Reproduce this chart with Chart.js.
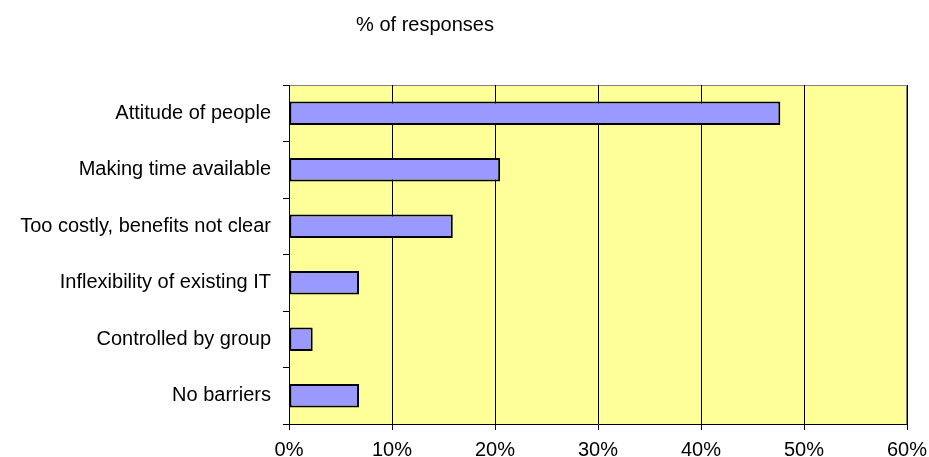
<!DOCTYPE html>
<html>
<head>
<meta charset="utf-8">
<style>
  html, body { margin: 0; padding: 0; background: #fff; }
  #wrap { width: 929px; height: 457px; }
</style>
<script src="https://cdn.jsdelivr.net/npm/chart.js@4/dist/chart.umd.min.js"></script>
</head>
<body>
<div id="wrap"><canvas id="barriers"></canvas></div>
<script>
  "use strict";

  // Barriers to change, share of responses
  const categories = [
    "Attitude of people",
    "Making time available",
    "Too costly, benefits not clear",
    "Inflexibility of existing IT",
    "Controlled by group",
    "No barriers"
  ];
  const responses = [47.7, 20.5, 15.9, 6.8, 2.3, 6.8];
  const xTicks = [0, 10, 20, 30, 40, 50, 60];
  const chartTitle = "% of responses";

  const font = { family: "'Liberation Sans', Arial, sans-serif", size: 20 };

  // Yellow plot area with grey top/right border
  const plotBackground = {
    id: "plotBackground",
    beforeDraw(chart) {
      const { ctx, chartArea: a } = chart;
      ctx.save();
      ctx.fillStyle = "#FFFF99";
      ctx.fillRect(a.left, a.top, a.right - a.left, a.bottom - a.top);
      ctx.strokeStyle = "#808080";
      ctx.lineWidth = 1;
      ctx.beginPath();
      ctx.moveTo(a.left, a.top + 0.5);
      ctx.lineTo(a.right - 0.5, a.top + 0.5);
      ctx.lineTo(a.right - 0.5, a.bottom);
      ctx.stroke();
      ctx.restore();
    }
  };

  // Title sits left of centre, above the plot
  const topTitle = {
    id: "topTitle",
    afterDraw(chart) {
      const ctx = chart.ctx;
      ctx.save();
      ctx.font = font.size + "px " + font.family;
      ctx.fillStyle = "#000";
      ctx.textAlign = "center";
      ctx.textBaseline = "middle";
      ctx.fillText(chartTitle, 425, 25);
      ctx.restore();
    }
  };

  new Chart(document.getElementById("barriers"), {
    type: "bar",
    data: {
      labels: categories,
      datasets: [{
        data: responses,
        backgroundColor: "#9999FF",
        borderColor: "#000",
        borderWidth: 2,
        borderSkipped: false,
        barPercentage: 0.42,
        categoryPercentage: 1
      }]
    },
    options: {
      indexAxis: "y",
      responsive: true,
      maintainAspectRatio: false,
      animation: false,
      layout: { padding: { top: 85, right: 22, left: 0, bottom: 0 } },
      plugins: {
        legend: { display: false },
        title: { display: false },
        tooltip: { enabled: false }
      },
      scales: {
        x: {
          min: 0,
          max: 60,
          afterBuildTicks(scale) {
            scale.ticks = xTicks.map(v => ({ value: v }));
          },
          afterFit(scale) {
            // fixed strip for the % labels, no extra side padding
            scale.height = 33;
            scale.paddingLeft = 0;
            scale.paddingRight = 0;
          },
          ticks: {
            font: font,
            color: "#000",
            padding: 8,
            maxRotation: 0,
            callback: v => v + "%"
          },
          grid: {
            color: "#000",
            lineWidth: 1,
            tickLength: 6,
            tickColor: "#000"
          },
          border: { color: "#000", width: 1 }
        },
        y: {
          afterFit(scale) {
            scale.width = 289;
            scale.paddingTop = 0;
            scale.paddingBottom = 0;
          },
          ticks: { font: font, color: "#000", padding: 12 },
          grid: {
            drawOnChartArea: false,
            offset: true,
            tickLength: 6,
            color: "#000"
          },
          border: { color: "#000", width: 1 }
        }
      }
    },
    plugins: [plotBackground, topTitle]
  });
</script>
</body>
</html>
